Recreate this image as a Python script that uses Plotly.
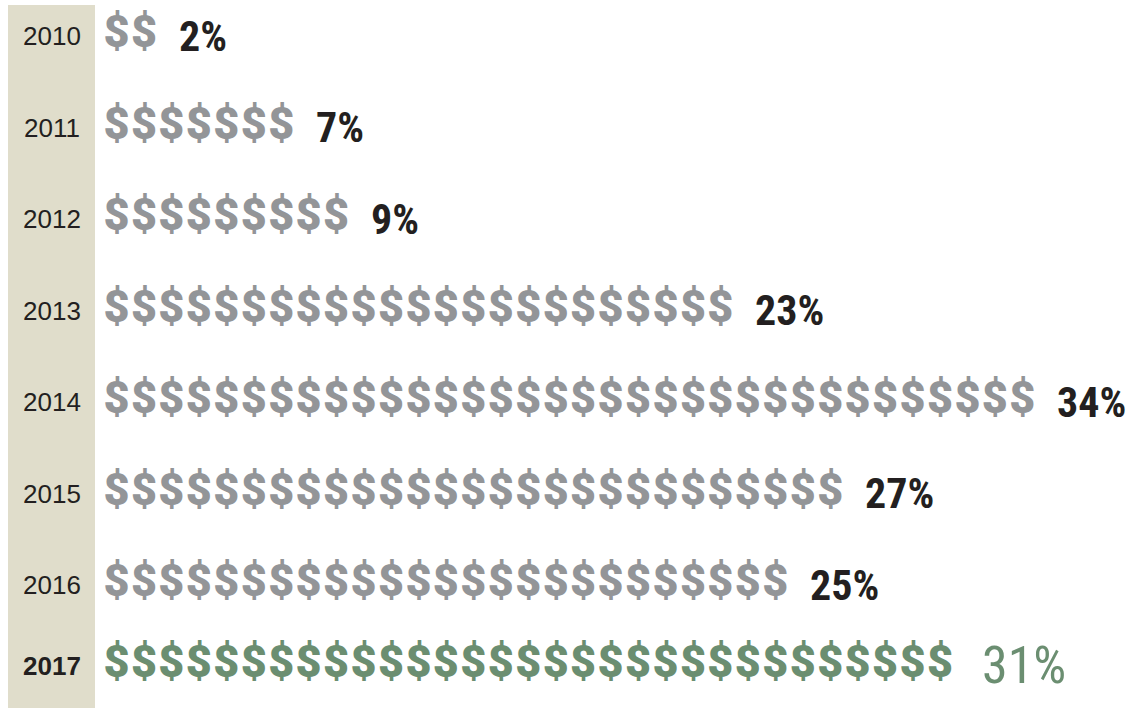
import plotly.graph_objects as go

# Share of spending per year, one dollar sign per percentage point
years = ["2010", "2011", "2012", "2013", "2014", "2015", "2016", "2017"]
shares = [2, 7, 9, 23, 34, 27, 25, 31]
labels = ["2%", "7%", "9%", "23%", "34%", "27%", "25%", "31%"]
highlight_year = "2017"

GRAY = "#939598"
GREEN = "#6b8e71"
INK = "#231f20"
BAND = "#e0ddcb"

W, H = 1134, 708
SIGN_PITCH = 27.45      # px between neighbouring dollar signs
FIRST_SIGN_PX = 116.5   # px centre of the first sign in each row
ROW_PITCH = 91.5        # px between rows
FIRST_ROW_PX = 36       # px centre of the top row
LAST_ROW_PULL = 0.115   # the highlighted last row sits a little closer

SIGN_FONT = "Roboto, Liberation Sans, Arial, sans-serif"
LABEL_FONT = "Roboto Condensed, Liberation Sans Narrow, Arial Narrow, sans-serif"
YEAR_FONT = "Liberation Sans, Arial, sans-serif"

# row positions (top to bottom)
row_y = [float(i) for i in range(len(years))]
row_y[-1] -= LAST_ROW_PULL

fig = go.Figure()

# dollar-sign pictogram rows
for yr, n, y in zip(years, shares, row_y):
    hl = yr == highlight_year
    xs = list(range(1, n + 1))
    fig.add_trace(go.Scatter(
        x=xs, y=[y] * n, mode="text", text=["$"] * n,
        textposition="middle center",
        textfont=dict(family=SIGN_FONT, size=45,
                      color=GREEN if hl else GRAY, weight=900),
        hoverinfo="skip", showlegend=False, cliponaxis=False,
    ))

# percentage labels after each row, and year labels in the left band
for yr, n, lab, y in zip(years, shares, labels, row_y):
    hl = yr == highlight_year
    fig.add_annotation(
        x=n + (1.45 if hl else 1.2), y=y, text=lab, showarrow=False,
        xanchor="left", yanchor="middle",
        font=dict(family=LABEL_FONT, size=52 if hl else 42,
                  color=GREEN if hl else INK,
                  weight="normal" if hl else "bold"),
    )
    fig.add_annotation(
        x=51.5 / W, xref="paper", y=y, text=yr, showarrow=False,
        xanchor="center", yanchor="middle",
        font=dict(family=YEAR_FONT, size=26, color=INK,
                  weight="bold" if hl else "normal"),
    )

# beige band behind the year column
fig.add_shape(type="rect", xref="paper", yref="paper",
              x0=8 / W, x1=95 / W, y0=0, y1=(H - 5) / H,
              fillcolor=BAND, line_width=0, layer="below")

x_lo = 1 - FIRST_SIGN_PX / SIGN_PITCH
x_hi = 1 + (W - FIRST_SIGN_PX) / SIGN_PITCH
y_top = -FIRST_ROW_PX / ROW_PITCH
y_bot = (H - FIRST_ROW_PX) / ROW_PITCH

fig.update_layout(
    width=W, height=H,
    margin=dict(l=0, r=0, t=0, b=0),
    paper_bgcolor="white", plot_bgcolor="white",
    xaxis=dict(range=[x_lo, x_hi], visible=False, fixedrange=True),
    yaxis=dict(range=[y_bot, y_top], visible=False, fixedrange=True),
)

fig.write_html("out.html")
